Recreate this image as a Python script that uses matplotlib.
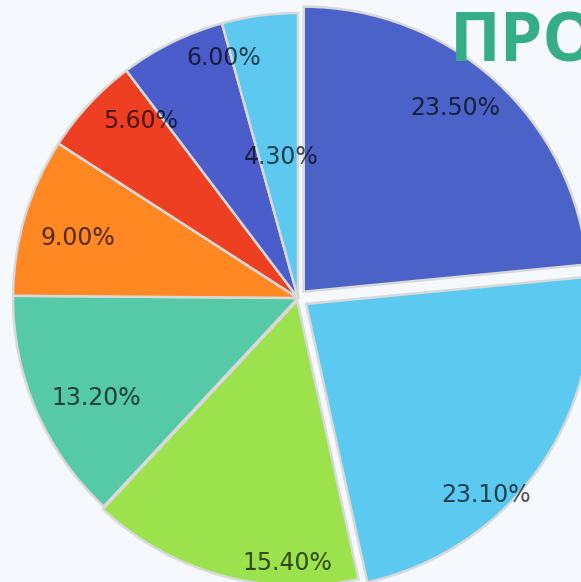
import numpy as np
import matplotlib
matplotlib.use("Agg")
import matplotlib.pyplot as plt

# ---- donnees ----
values = [23.5, 23.1, 15.4, 13.2, 9.0, 5.6, 6.0, 4.3]
labels = ["23.50%", "23.10%", "15.40%", "13.20%", "9.00%", "5.60%", "6.00%", "4.30%"]
colors = ["#4b63c9", "#5cc9f0", "#9ce24c", "#56caa7", "#ff8823", "#ef3f22", "#4a5dcb", "#5dc8f0"]
title = "ПРОГНОЗ"

# ---- style ----
explode = [0.03, 0.035, 0.01, 0, 0, 0, 0, 0]
lab_r = [0.835, 0.92, 0.92, 0.79, 0.80, 0.83, 0.88, 0.50]
lab_off = [2.6, -10.7, 13.1, 3.2, 1.5, -5.4, -9.0, -0.8]
BG = "#f5f8fc"

W, H = 581, 582
cx, cy, R = 298, 298, 285

fig = plt.figure(figsize=(W / 100, H / 100), dpi=100, facecolor=BG)
ax = fig.add_axes([0, 0, 1, 1])
ax.set_facecolor(BG)

wedges, _ = ax.pie(values, colors=colors, startangle=90, counterclock=False,
                   explode=explode, radius=1.0,
                   wedgeprops=dict(edgecolor="#d9d9d9", linewidth=1.8))

# pie() impose ses propres limites : on les redefinit apres
ax.set_xlim(-cx / R, (W - cx) / R)
ax.set_ylim(-(H - cy) / R, cy / R)
ax.set_aspect("auto")
ax.axis("off")

for w, lab, r, off in zip(wedges, labels, lab_r, lab_off):
    mid = np.deg2rad((w.theta1 + w.theta2) / 2 + off)
    x0, y0 = w.center
    ax.text(x0 + r * np.cos(mid), y0 + r * np.sin(mid), lab,
            ha="center", va="center", fontsize=17, color="black", alpha=0.68)

fig.text(450 / W, 1 - 10 / H, title, ha="left", va="top", fontsize=49,
         fontweight="bold", color="#35ad86", family="Open Sans")

fig.savefig("out.png", dpi=100, facecolor=BG)
